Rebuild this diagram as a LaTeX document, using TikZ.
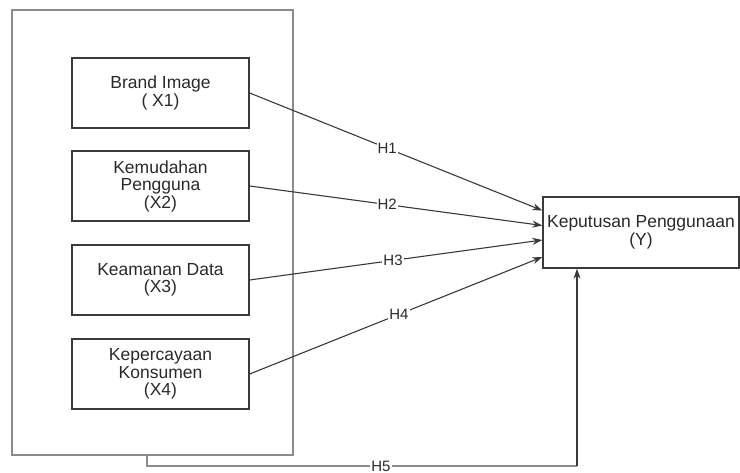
\documentclass[tikz,border=0pt]{standalone}
\usepackage{fontspec}
\setmainfont{Liberation Sans}
\usetikzlibrary{arrows.meta}
\definecolor{txt}{HTML}{2A2A2A}
\definecolor{frame}{HTML}{8C8C8C}
\definecolor{boxline}{HTML}{3A3A3A}
\tikzset{
  varbox/.style={draw=boxline, line width=1.3pt, fill=white, minimum width=177pt, minimum height=70pt, align=center, text=txt, font=\fontsize{17.5}{17.5}\selectfont, inner sep=0pt},
  conn/.style={draw=boxline, line width=1.1pt, -{Stealth[length=10pt,width=7pt]}},
  hlab/.style={fill=white, text=txt, font=\fontsize{15}{15}\selectfont, inner sep=1pt}
}
\begin{document}
\begin{tikzpicture}[x=1pt,y=-1pt]
\useasboundingbox[fill=white] (0,0) rectangle (740,473);
\node[draw=frame, line width=1.6pt, minimum width=281pt, minimum height=445pt, inner sep=0pt] (outer) at (152.5,232.5) {};
\node[varbox] (b1) at (160.5,93) {Brand Image\\( X1)};
\node[varbox] (b2) at (160.5,186) {Kemudahan\\Pengguna\\(X2)};
\node[varbox] (b3) at (160.5,280) {Keamanan Data\\(X3)};
\node[varbox] (b4) at (160.5,374) {Kepercayaan\\Konsumen\\(X4)};
\node[varbox, minimum width=196pt, minimum height=71pt] (Y) at (641,232.5) {Keputusan Penggunaan\\(Y)};
\draw[conn] (b1.east) -- node[hlab, pos=0.47] {H1} ([yshift=22pt]Y.west);
\draw[conn] (b2.east) -- node[hlab, pos=0.47] {H2} ([yshift=7pt]Y.west);
\draw[conn] (b3.east) -- node[hlab, pos=0.49] {H3} ([yshift=-7.5pt]Y.west);
\draw[conn] (b4.east) -- node[hlab, pos=0.51] {H4} ([yshift=-24.5pt]Y.west);
\coordinate (c1) at (147,466);
\coordinate (c2) at (577,466);
\draw[draw=frame, line width=1.4pt] ([xshift=-5.5pt]outer.south) -- (c1) -- node[hlab, pos=0.544] {H5} (c2);
\draw[conn] (c2) -- ([xshift=-64pt]Y.south);
\end{tikzpicture}
\end{document}
